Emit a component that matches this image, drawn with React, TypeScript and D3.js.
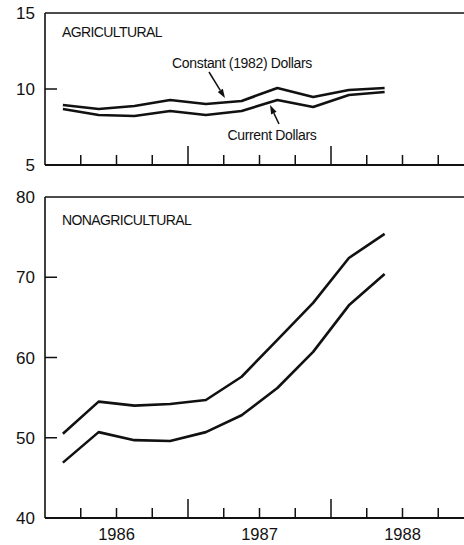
import React from "react";
import * as d3 from "d3";

const quarters = ["1986Q1","1986Q2","1986Q3","1986Q4","1987Q1","1987Q2","1987Q3","1987Q4","1988Q1","1988Q2"];
const agConstant = [8.95, 8.68, 8.88, 9.28, 9.01, 9.21, 10.07, 9.47, 9.93, 10.07];
const agCurrent = [8.68, 8.29, 8.22, 8.55, 8.29, 8.55, 9.28, 8.82, 9.61, 9.80];
const nonagUpper = [50.5, 54.5, 54.0, 54.2, 54.7, 57.6, 62.2, 66.8, 72.4, 75.4];
const nonagLower = [46.9, 50.7, 49.7, 49.6, 50.7, 52.8, 56.2, 60.7, 66.5, 70.4];
const years = [1986, 1987, 1988];
const agTicks = [15, 10, 5];
const nonagTicks = [80, 70, 60, 50, 40];

const qToYear = (q: string) => +q.slice(0, 4) + (+q.slice(5) - 1) / 4 + 0.125;

const FONT = "'Liberation Sans', Arial, Helvetica, sans-serif";

export default function App() {
  const W = 464, H = 545;
  const x = d3.scaleLinear().domain([1986, 1989]).range([45, 474]);
  const yA = d3.scaleLinear().domain([5, 15]).range([165, 13]);
  const yN = d3.scaleLinear().domain([40, 80]).range([518, 197]);

  const lineA = d3.line<number>().x((_, i) => x(qToYear(quarters[i]))).y(d => yA(d));
  const lineN = d3.line<number>().x((_, i) => x(qToYear(quarters[i]))).y(d => yN(d));

  const quarterTicks = d3.range(1, 12).map(i => 1986 + i / 4);

  const panel = (y: d3.ScaleLinear<number, number>, ticks: number[], inner: number[]) => {
    const top = y(ticks[0]);
    const bot = y(ticks[ticks.length - 1]);
    return (
      <g>
        <line x1={45} x2={W} y1={top} y2={top} stroke="#111" strokeWidth={1.6} />
        <line x1={45} x2={W} y1={bot} y2={bot} stroke="#111" strokeWidth={1.8} />
        <line x1={45} x2={45} y1={top} y2={bot} stroke="#111" strokeWidth={1.6} />
        {quarterTicks.map(t => {
          const tall = Math.abs(t - Math.round(t)) < 1e-6;
          return (
            <line key={t} x1={x(t)} x2={x(t)} y1={bot} y2={bot - (tall ? 19 : 10)} stroke="#111" strokeWidth={1.5} />
          );
        })}
        {inner.map(v => (
          <line key={v} x1={45} x2={57} y1={y(v)} y2={y(v)} stroke="#111" strokeWidth={1.5} />
        ))}
        {ticks.map(v => (
          <text key={v} x={35} y={y(v)} dy="0.36em" textAnchor="end" fontSize={17} fontFamily={FONT} fill="#111">{v}</text>
        ))}
      </g>
    );
  };

  const arrow = (x1: number, y1: number, x2: number, y2: number) => {
    const ang = Math.atan2(y2 - y1, x2 - x1);
    const L = 9, Wd = 3;
    const bx = x2 - L * Math.cos(ang), by = y2 - L * Math.sin(ang);
    const px = -Math.sin(ang) * Wd, py = Math.cos(ang) * Wd;
    return (
      <g>
        <line x1={x1} y1={y1} x2={bx} y2={by} stroke="#111" strokeWidth={1.5} />
        <polygon points={`${x2},${y2} ${bx + px},${by + py} ${bx - px},${by - py}`} fill="#111" />
      </g>
    );
  };

  return (
    <svg width={W} height={H} style={{ position: "absolute", left: 0, top: 0, background: "#fff" }}>
      {panel(yA, agTicks, [10])}
      {panel(yN, nonagTicks, [70, 60, 50])}

      <path d={lineA(agConstant) || ""} fill="none" stroke="#111" strokeWidth={2.6} strokeLinejoin="round" />
      <path d={lineA(agCurrent) || ""} fill="none" stroke="#111" strokeWidth={2.6} strokeLinejoin="round" />
      <path d={lineN(nonagUpper) || ""} fill="none" stroke="#111" strokeWidth={2.6} strokeLinejoin="round" />
      <path d={lineN(nonagLower) || ""} fill="none" stroke="#111" strokeWidth={2.6} strokeLinejoin="round" />

      <text x={62} y={37} fontSize={14} letterSpacing={-0.6} fontFamily={FONT} fill="#111">AGRICULTURAL</text>
      <text x={62} y={225} fontSize={14} letterSpacing={-0.6} fontFamily={FONT} fill="#111">NONAGRICULTURAL</text>

      <text x={242} y={68} textAnchor="middle" fontSize={14} letterSpacing={-0.35} fontFamily={FONT} fill="#111">Constant (1982) Dollars</text>
      {arrow(209, 72, 225, 98)}
      <text x={272} y={140} textAnchor="middle" fontSize={14} letterSpacing={-0.35} fontFamily={FONT} fill="#111">Current Dollars</text>
      {arrow(279, 124, 270, 105)}

      {years.map(yv => (
        <text key={yv} x={x(yv + 0.5)} y={540} textAnchor="middle" fontSize={16.5} fontFamily={FONT} fill="#111">{yv}</text>
      ))}
    </svg>
  );
}
